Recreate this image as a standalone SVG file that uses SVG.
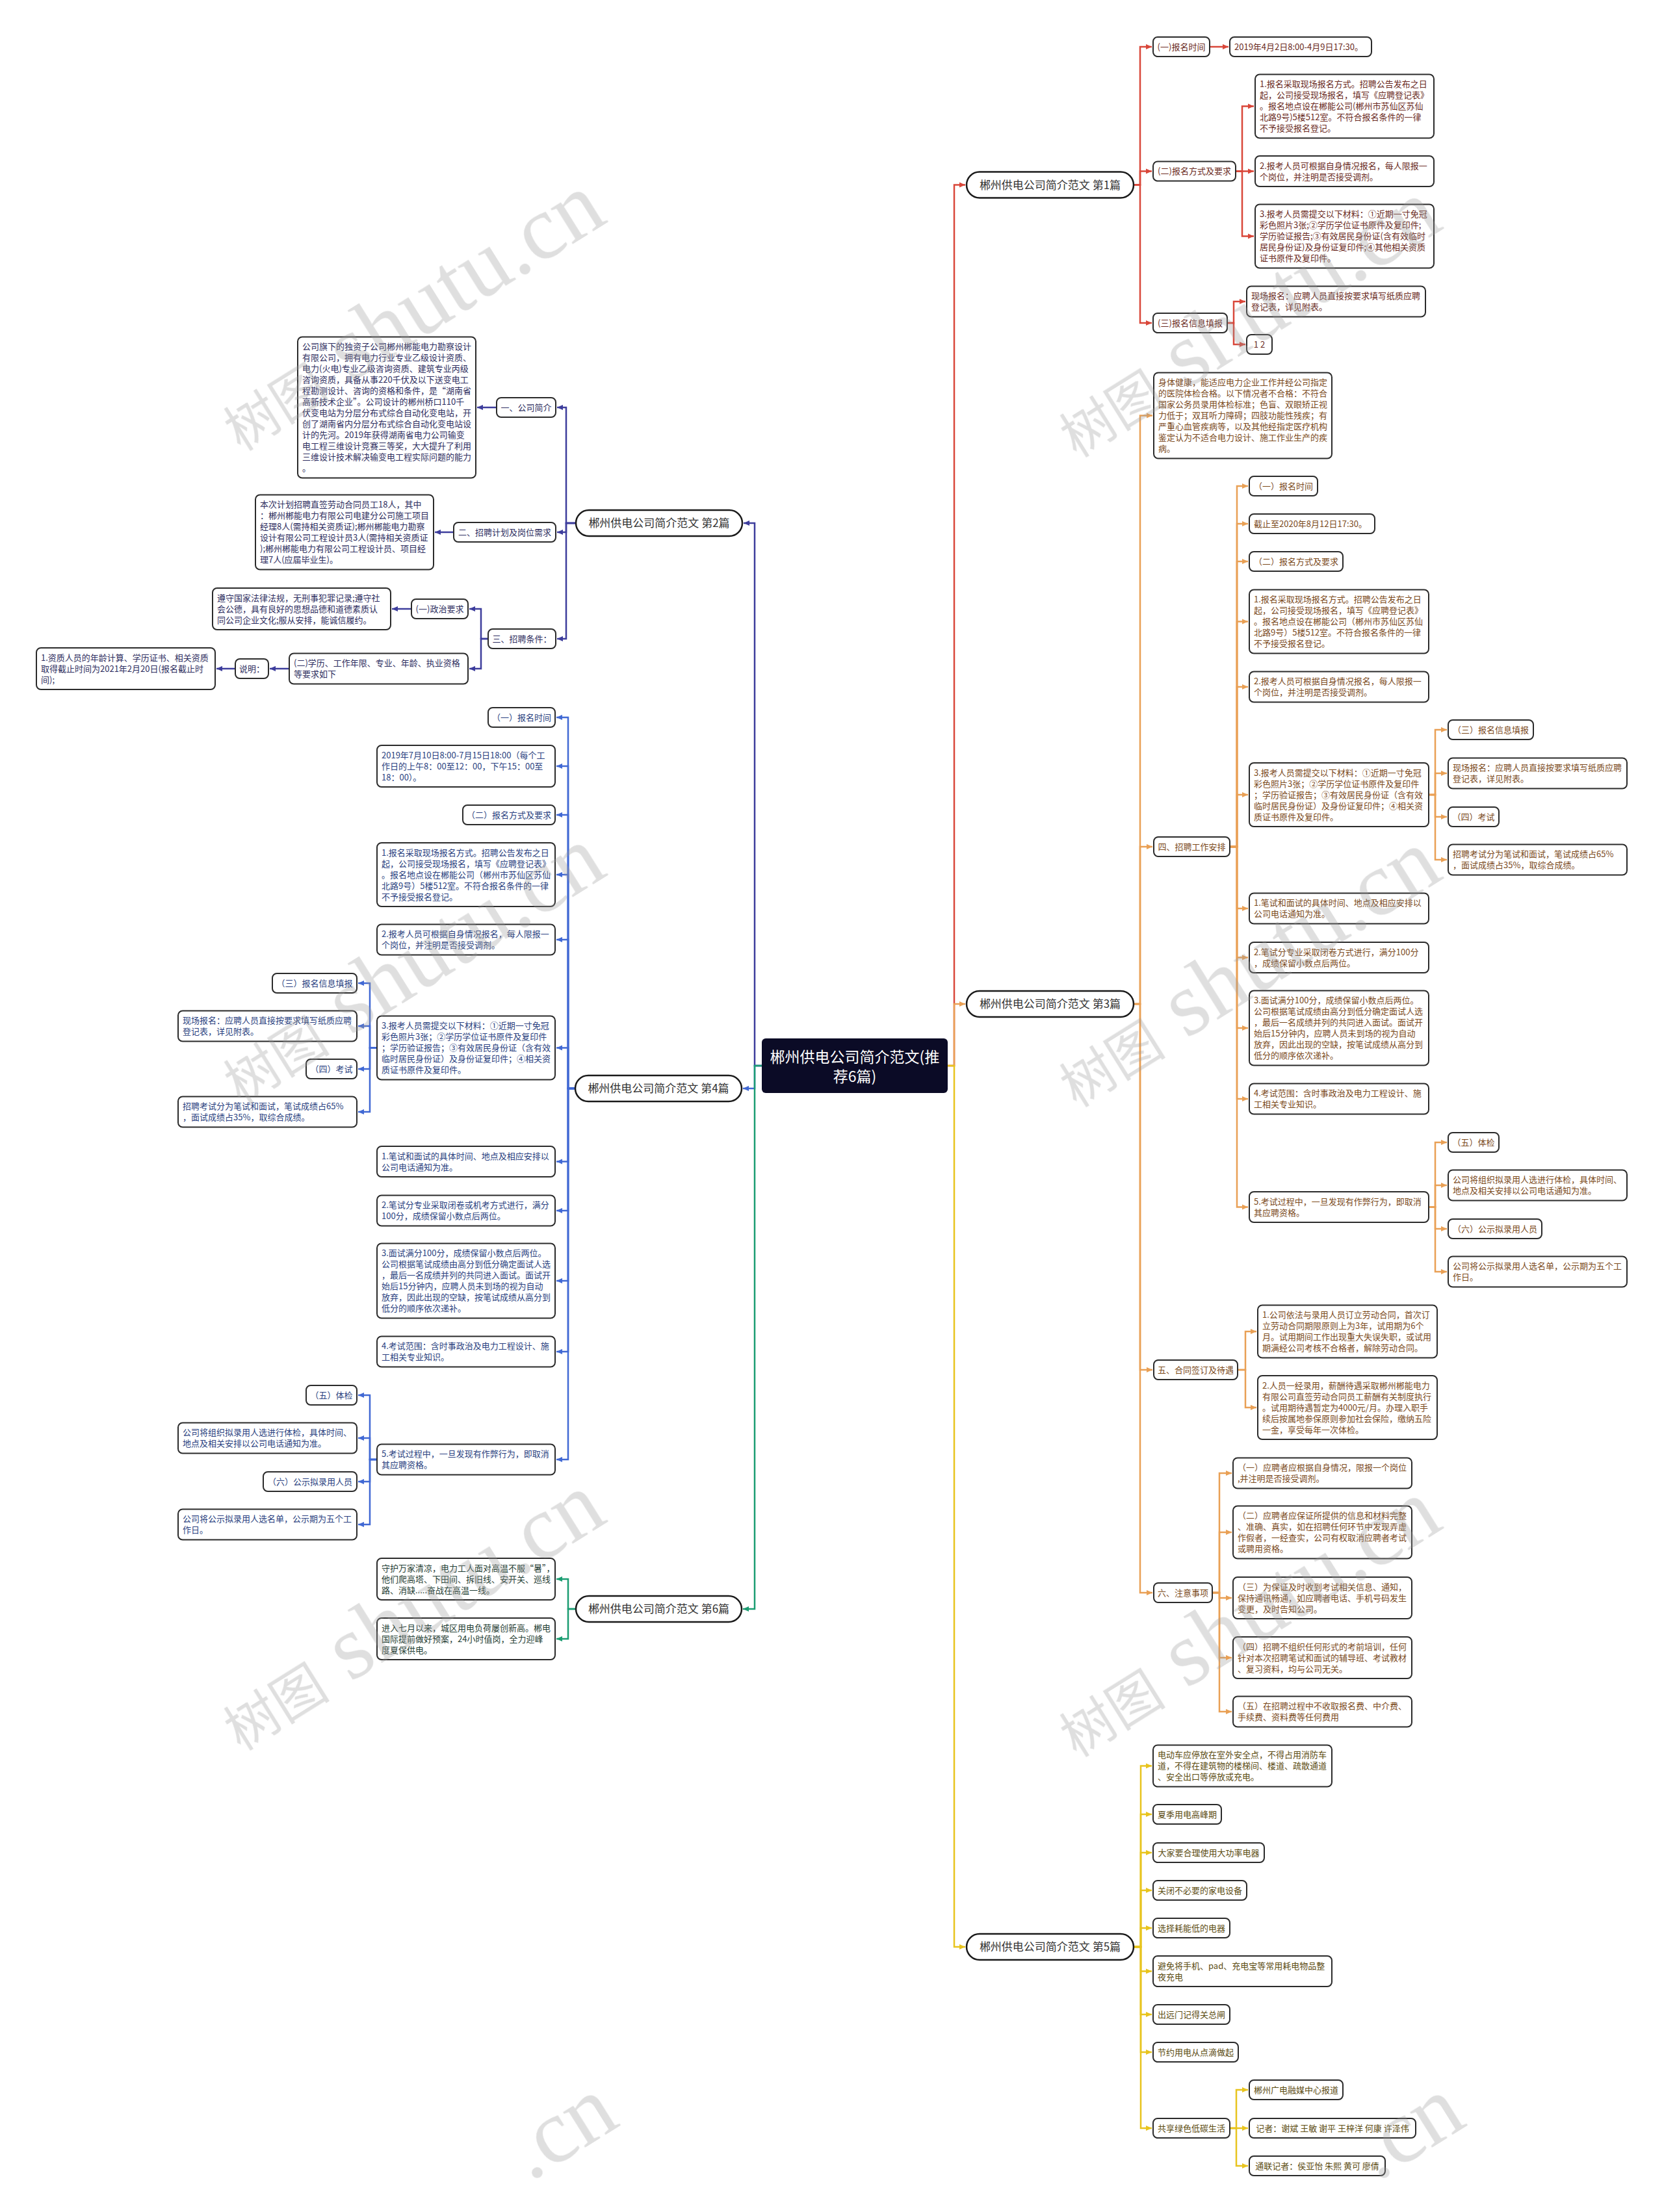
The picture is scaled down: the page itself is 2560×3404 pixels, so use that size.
<svg xmlns="http://www.w3.org/2000/svg" width="2560" height="3404" viewBox="0 0 2560 3404">
<defs>
<style>
.box{fill:#fff;stroke:#2b2b2b;stroke-width:2}
.pill{fill:#fff;stroke:#1a1a1a;stroke-width:2.5}
text{font-family:"Noto Sans CJK SC","Noto Sans",sans-serif}
.t{font-size:13px}
.l{font-size:13px;text-anchor:middle}
.ti{font-size:17px;fill:#333;text-anchor:middle}
.k1{fill:#6a2a22}.k2{fill:#2e2e60}.k3{fill:#7b4a1c}.k4{fill:#2a3f80}.k5{fill:#5c4c12}.k6{fill:#1f3d33}
.c{fill:none;stroke-width:2.5}
.cr{stroke:#d9473a}.co{stroke:#e9a055}.cy{stroke:#e8c41e}.ci{stroke:#3d3d9c}.cb{stroke:#4169d4}.cg{stroke:#1b9d72}
.wm{fill:#9a9a9a;opacity:.32}
.ws{font-family:"Liberation Serif",serif;font-size:140px}
</style>
<marker id="ar" viewBox="0 0 10 10" refX="10" refY="5" markerWidth="9" markerHeight="9" markerUnits="userSpaceOnUse" orient="auto"><path d="M0,0.5 L10,5 L0,9.5 z" fill="#d9473a"/></marker>
<marker id="ao" viewBox="0 0 10 10" refX="10" refY="5" markerWidth="9" markerHeight="9" markerUnits="userSpaceOnUse" orient="auto"><path d="M0,0.5 L10,5 L0,9.5 z" fill="#e9a055"/></marker>
<marker id="ay" viewBox="0 0 10 10" refX="10" refY="5" markerWidth="9" markerHeight="9" markerUnits="userSpaceOnUse" orient="auto"><path d="M0,0.5 L10,5 L0,9.5 z" fill="#e8c41e"/></marker>
<marker id="ai" viewBox="0 0 10 10" refX="10" refY="5" markerWidth="9" markerHeight="9" markerUnits="userSpaceOnUse" orient="auto"><path d="M0,0.5 L10,5 L0,9.5 z" fill="#3d3d9c"/></marker>
<marker id="ab" viewBox="0 0 10 10" refX="10" refY="5" markerWidth="9" markerHeight="9" markerUnits="userSpaceOnUse" orient="auto"><path d="M0,0.5 L10,5 L0,9.5 z" fill="#4169d4"/></marker>
<marker id="ag" viewBox="0 0 10 10" refX="10" refY="5" markerWidth="9" markerHeight="9" markerUnits="userSpaceOnUse" orient="auto"><path d="M0,0.5 L10,5 L0,9.5 z" fill="#1b9d72"/></marker>
</defs>
<rect width="2560" height="3404" fill="#fff"/>

<g id="connectors">
<g class="c ci" marker-end="url(#ai)">
<path d="M1172,1640 H1161 V805 H1144"/>
<path d="M886,805 H871 V627 H857"/><path d="M886,805 H871 V819 H857"/><path d="M886,805 H871 V983 H857"/>
<path d="M764,627 H734"/><path d="M698,819 H669"/>
<path d="M751,983 H740 V937 H722"/><path d="M751,983 H740 V1029 H722"/>
<path d="M633,937 H603"/><path d="M445,1029 H415"/><path d="M362,1029 H333"/>
</g>
<g class="c cb" marker-end="url(#ab)">
<path d="M1172,1640 H1161 V1675 H1143"/>
<path d="M885,1675 H874 V1104 H856"/><path d="M885,1675 H874 V1179 H856"/><path d="M885,1675 H874 V1254 H856"/><path d="M885,1675 H874 V1346 H856"/><path d="M885,1675 H874 V1446 H856"/><path d="M885,1675 H874 V1612.5 H856"/><path d="M885,1675 H874 V1787.5 H856"/><path d="M885,1675 H874 V1863 H856"/><path d="M885,1675 H874 V1971 H856"/><path d="M885,1675 H874 V2080 H856"/><path d="M885,1675 H874 V2246 H856"/>
<path d="M580,1612.5 H569 V1513 H551"/><path d="M580,1612.5 H569 V1579 H551"/><path d="M580,1612.5 H569 V1645 H551"/><path d="M580,1612.5 H569 V1711 H551"/>
<path d="M580,2246 H569 V2147 H551"/><path d="M580,2246 H569 V2213 H551"/><path d="M580,2246 H569 V2280 H551"/><path d="M580,2246 H569 V2346 H551"/>
</g>
<g class="c cg" marker-end="url(#ag)">
<path d="M1172,1640 H1161 V2476 H1143"/>
<path d="M886,2476 H874 V2430 H856"/><path d="M886,2476 H874 V2522 H856"/>
</g>
<g class="c cr" marker-end="url(#ar)">
<path d="M1458,1640 H1468 V284.5 H1485"/>
<path d="M1744,284.5 H1754 V72 H1772"/><path d="M1744,284.5 H1754 V263.5 H1772"/><path d="M1744,284.5 H1754 V497 H1772"/>
<path d="M1861,72 H1890"/>
<path d="M1901,263.5 H1911 V163.5 H1929"/><path d="M1901,263.5 H1911 V263.5 H1929"/><path d="M1901,263.5 H1911 V363.5 H1929"/>
<path d="M1888,497 H1898 V464 H1916"/><path d="M1888,497 H1898 V530 H1916"/>
</g>
<g class="c co" marker-end="url(#ao)">
<path d="M1458,1640 H1468 V1545 H1485"/>
<path d="M1744,1545 H1754 V639.5 H1773"/><path d="M1744,1545 H1754 V1303 H1773"/><path d="M1744,1545 H1754 V2108 H1773"/><path d="M1744,1545 H1754 V2451 H1773"/>
<path d="M1892,1303 H1903 V748 H1920"/><path d="M1892,1303 H1903 V806 H1920"/><path d="M1892,1303 H1903 V864 H1920"/><path d="M1892,1303 H1903 V956.5 H1920"/><path d="M1892,1303 H1903 V1057 H1920"/><path d="M1892,1303 H1903 V1223 H1920"/><path d="M1892,1303 H1903 V1398 H1920"/><path d="M1892,1303 H1903 V1473.5 H1920"/><path d="M1892,1303 H1903 V1582 H1920"/><path d="M1892,1303 H1903 V1691 H1920"/><path d="M1892,1303 H1903 V1857.5 H1920"/>
<path d="M2198,1223 H2208 V1123 H2226"/><path d="M2198,1223 H2208 V1190 H2226"/><path d="M2198,1223 H2208 V1257 H2226"/><path d="M2198,1223 H2208 V1323 H2226"/>
<path d="M2198,1857.5 H2208 V1758 H2226"/><path d="M2198,1857.5 H2208 V1824 H2226"/><path d="M2198,1857.5 H2208 V1891 H2226"/><path d="M2198,1857.5 H2208 V1957 H2226"/>
<path d="M1904,2108 H1916 V2049 H1933"/><path d="M1904,2108 H1916 V2166 H1933"/>
<path d="M1865,2451 H1876 V2267 H1895"/><path d="M1865,2451 H1876 V2358 H1895"/><path d="M1865,2451 H1876 V2459 H1895"/><path d="M1865,2451 H1876 V2551 H1895"/><path d="M1865,2451 H1876 V2634 H1895"/>
</g>
<g class="c cy" marker-end="url(#ay)">
<path d="M1458,1640 H1468 V2996 H1485"/>
<path d="M1744,2996 H1755 V2717.5 H1772"/><path d="M1744,2996 H1755 V2792 H1772"/><path d="M1744,2996 H1755 V2851 H1772"/><path d="M1744,2996 H1755 V2909 H1772"/><path d="M1744,2996 H1755 V2967 H1772"/><path d="M1744,2996 H1755 V3033.5 H1772"/><path d="M1744,2996 H1755 V3100 H1772"/><path d="M1744,2996 H1755 V3158 H1772"/><path d="M1744,2996 H1755 V3275 H1772"/>
<path d="M1892,3275 H1902 V3216 H1920"/><path d="M1892,3275 H1902 V3275 H1920"/><path d="M1892,3275 H1902 V3333 H1920"/>
</g>
</g>

<g id="root">
<rect x="1172" y="1598" width="286" height="84" rx="6" fill="#0b0b26"/>
<text x="1315" y="1635" font-size="23" fill="#fff" text-anchor="middle">郴州供电公司简介范文(推</text>
<text x="1315" y="1665" font-size="23" fill="#fff" text-anchor="middle">荐6篇)</text>
</g>

<!-- Branch 1 -->
<g id="b1">
<rect class="pill" x="1487" y="264.5" width="257" height="40" rx="20"/>
<text class="ti" x="1615.5" y="290.5">郴州供电公司简介范文 第1篇</text>
</g>
<g id="b1-1"><rect class="box" x="1774" y="57" width="87" height="30" rx="7"/><text class="l k1" x="1817.5" y="76.5">(一)报名时间</text></g>
<g id="b1-1a"><rect class="box" x="1892" y="57" width="218" height="30" rx="7"/><text class="t k1" x="1899" y="76.5">2019年4月2日8:00-4月9日17:30。</text></g>
<g id="b1-2"><rect class="box" x="1774" y="248.5" width="127" height="30" rx="7"/><text class="l k1" x="1837.5" y="268">(二)报名方式及要求</text></g>
<g id="b1-2a"><rect class="box" x="1931" y="114.5" width="275" height="98" rx="7"/><text class="t k1" x="1938" y="134"><tspan x="1938">1.报名采取现场报名方式。招聘公告发布之日</tspan><tspan x="1938" dy="17">起，公司接受现场报名，填写《应聘登记表》</tspan><tspan x="1938" dy="17">。报名地点设在郴能公司(郴州市苏仙区苏仙</tspan><tspan x="1938" dy="17">北路9号)5楼512室。不符合报名条件的一律</tspan><tspan x="1938" dy="17">不予接受报名登记。</tspan></text></g>
<g id="b1-2b"><rect class="box" x="1931" y="240" width="275" height="47" rx="7"/><text class="t k1" x="1938" y="259.5"><tspan x="1938">2.报考人员可根据自身情况报名，每人限报一</tspan><tspan x="1938" dy="17">个岗位，并注明是否接受调剂。</tspan></text></g>
<g id="b1-2c"><rect class="box" x="1931" y="314.5" width="275" height="98" rx="7"/><text class="t k1" x="1938" y="334"><tspan x="1938">3.报考人员需提交以下材料：①近期一寸免冠</tspan><tspan x="1938" dy="17">彩色照片3张;②学历学位证书原件及复印件;</tspan><tspan x="1938" dy="17">学历验证报告;③有效居民身份证(含有效临时</tspan><tspan x="1938" dy="17">居民身份证)及身份证复印件;④其他相关资质</tspan><tspan x="1938" dy="17">证书原件及复印件。</tspan></text></g>
<g id="b1-3"><rect class="box" x="1774" y="482" width="114" height="30" rx="7"/><text class="l k1" x="1831" y="501.5">(三)报名信息填报</text></g>
<g id="b1-3a"><rect class="box" x="1918" y="440.5" width="275" height="47" rx="7"/><text class="t k1" x="1925" y="460"><tspan x="1925">现场报名：应聘人员直接按要求填写纸质应聘</tspan><tspan x="1925" dy="17">登记表，详见附表。</tspan></text></g>
<g id="b1-3b"><rect class="box" x="1918" y="515" width="39" height="30" rx="7"/><text class="l k1" x="1937.5" y="534.5">1 2</text></g>

<!-- Branch 3 -->
<g id="b3">
<rect class="pill" x="1487" y="1525" width="257" height="40" rx="20"/>
<text class="ti" x="1615.5" y="1551">郴州供电公司简介范文 第3篇</text>
</g>
<g id="b3-0"><rect class="box" x="1775" y="573.5" width="274" height="132" rx="7"/><text class="t k3" x="1782" y="593"><tspan x="1782">身体健康，能适应电力企业工作并经公司指定</tspan><tspan x="1782" dy="17">的医院体检合格。以下情况者不合格：不符合</tspan><tspan x="1782" dy="17">国家公务员录用体检标准；色盲、双眼矫正视</tspan><tspan x="1782" dy="17">力低于；双耳听力障碍；四肢功能性残疾；有</tspan><tspan x="1782" dy="17">严重心血管疾病等，以及其他经指定医疗机构</tspan><tspan x="1782" dy="17">鉴定认为不适合电力设计、施工作业生产的疾</tspan><tspan x="1782" dy="17">病。</tspan></text></g>
<g id="b3-4"><rect class="box" x="1775" y="1288" width="117" height="30" rx="7"/><text class="l k3" x="1833.5" y="1307.5">四、招聘工作安排</text></g>
<g id="b3-4-1"><rect class="box" x="1922" y="733" width="105" height="30" rx="7"/><text class="l k3" x="1974.5" y="752.5">（一）报名时间</text></g>
<g id="b3-4-2"><rect class="box" x="1922" y="791" width="193" height="30" rx="7"/><text class="t k3" x="1929" y="810.5">截止至2020年8月12日17:30。</text></g>
<g id="b3-4-3"><rect class="box" x="1922" y="849" width="144" height="30" rx="7"/><text class="l k3" x="1994" y="868.5">（二）报名方式及要求</text></g>
<g id="b3-4-4"><rect class="box" x="1922" y="907.5" width="276" height="98" rx="7"/><text class="t k3" x="1929" y="927"><tspan x="1929">1.报名采取现场报名方式。招聘公告发布之日</tspan><tspan x="1929" dy="17">起，公司接受现场报名，填写《应聘登记表》</tspan><tspan x="1929" dy="17">。报名地点设在郴能公司（郴州市苏仙区苏仙</tspan><tspan x="1929" dy="17">北路9号）5楼512室。不符合报名条件的一律</tspan><tspan x="1929" dy="17">不予接受报名登记。</tspan></text></g>
<g id="b3-4-5"><rect class="box" x="1922" y="1033.5" width="276" height="47" rx="7"/><text class="t k3" x="1929" y="1053"><tspan x="1929">2.报考人员可根据自身情况报名，每人限报一</tspan><tspan x="1929" dy="17">个岗位，并注明是否接受调剂。</tspan></text></g>
<g id="b3-4-6"><rect class="box" x="1922" y="1174" width="276" height="98" rx="7"/><text class="t k3" x="1929" y="1193.5"><tspan x="1929">3.报考人员需提交以下材料：①近期一寸免冠</tspan><tspan x="1929" dy="17">彩色照片3张；②学历学位证书原件及复印件</tspan><tspan x="1929" dy="17">；学历验证报告；③有效居民身份证（含有效</tspan><tspan x="1929" dy="17">临时居民身份证）及身份证复印件；④相关资</tspan><tspan x="1929" dy="17">质证书原件及复印件。</tspan></text></g>
<g id="b3-4-6a"><rect class="box" x="2228" y="1108" width="131" height="30" rx="7"/><text class="l k3" x="2293.5" y="1127.5">（三）报名信息填报</text></g>
<g id="b3-4-6b"><rect class="box" x="2228" y="1166.5" width="275" height="47" rx="7"/><text class="t k3" x="2235" y="1186"><tspan x="2235">现场报名：应聘人员直接按要求填写纸质应聘</tspan><tspan x="2235" dy="17">登记表，详见附表。</tspan></text></g>
<g id="b3-4-6c"><rect class="box" x="2228" y="1242" width="78" height="30" rx="7"/><text class="l k3" x="2267" y="1261.5">（四）考试</text></g>
<g id="b3-4-6d"><rect class="box" x="2228" y="1299.5" width="275" height="47" rx="7"/><text class="t k3" x="2235" y="1319"><tspan x="2235">招聘考试分为笔试和面试，笔试成绩占65%</tspan><tspan x="2235" dy="17">，面试成绩占35%，取综合成绩。</tspan></text></g>
<g id="b3-4-7"><rect class="box" x="1922" y="1374.5" width="276" height="47" rx="7"/><text class="t k3" x="1929" y="1394"><tspan x="1929">1.笔试和面试的具体时间、地点及相应安排以</tspan><tspan x="1929" dy="17">公司电话通知为准。</tspan></text></g>
<g id="b3-4-8"><rect class="box" x="1922" y="1450" width="276" height="47" rx="7"/><text class="t k3" x="1929" y="1469.5"><tspan x="1929">2.笔试分专业采取闭卷方式进行，满分100分</tspan><tspan x="1929" dy="17">，成绩保留小数点后两位。</tspan></text></g>
<g id="b3-4-9"><rect class="box" x="1922" y="1524.5" width="276" height="115" rx="7"/><text class="t k3" x="1929" y="1544"><tspan x="1929">3.面试满分100分，成绩保留小数点后两位。</tspan><tspan x="1929" dy="17">公司根据笔试成绩由高分到低分确定面试人选</tspan><tspan x="1929" dy="17">，最后一名成绩并列的共同进入面试。面试开</tspan><tspan x="1929" dy="17">始后15分钟内，应聘人员未到场的视为自动</tspan><tspan x="1929" dy="17">放弃，因此出现的空缺，按笔试成绩从高分到</tspan><tspan x="1929" dy="17">低分的顺序依次递补。</tspan></text></g>
<g id="b3-4-10"><rect class="box" x="1922" y="1667.5" width="276" height="47" rx="7"/><text class="t k3" x="1929" y="1687"><tspan x="1929">4.考试范围：含时事政治及电力工程设计、施</tspan><tspan x="1929" dy="17">工相关专业知识。</tspan></text></g>
<g id="b3-4-11"><rect class="box" x="1922" y="1834" width="276" height="47" rx="7"/><text class="t k3" x="1929" y="1853.5"><tspan x="1929">5.考试过程中，一旦发现有作弊行为，即取消</tspan><tspan x="1929" dy="17">其应聘资格。</tspan></text></g>
<g id="b3-4-11a"><rect class="box" x="2228" y="1743" width="78" height="30" rx="7"/><text class="l k3" x="2267" y="1762.5">（五）体检</text></g>
<g id="b3-4-11b"><rect class="box" x="2228" y="1800.5" width="275" height="47" rx="7"/><text class="t k3" x="2235" y="1820"><tspan x="2235">公司将组织拟录用人选进行体检，具体时间、</tspan><tspan x="2235" dy="17">地点及相关安排以公司电话通知为准。</tspan></text></g>
<g id="b3-4-11c"><rect class="box" x="2228" y="1876" width="144" height="30" rx="7"/><text class="l k3" x="2300" y="1895.5">（六）公示拟录用人员</text></g>
<g id="b3-4-11d"><rect class="box" x="2228" y="1933.5" width="275" height="47" rx="7"/><text class="t k3" x="2235" y="1953"><tspan x="2235">公司将公示拟录用人选名单，公示期为五个工</tspan><tspan x="2235" dy="17">作日。</tspan></text></g>
<g id="b3-5"><rect class="box" x="1775" y="2093" width="129" height="30" rx="7"/><text class="l k3" x="1839.5" y="2112.5">五、合同签订及待遇</text></g>
<g id="b3-5-1"><rect class="box" x="1935" y="2008.5" width="276" height="81" rx="7"/><text class="t k3" x="1942" y="2028"><tspan x="1942">1.公司依法与录用人员订立劳动合同，首次订</tspan><tspan x="1942" dy="17">立劳动合同期限原则上为3年，试用期为6个</tspan><tspan x="1942" dy="17">月。试用期间工作出现重大失误失职，或试用</tspan><tspan x="1942" dy="17">期满经公司考核不合格者，解除劳动合同。</tspan></text></g>
<g id="b3-5-2"><rect class="box" x="1935" y="2117" width="276" height="98" rx="7"/><text class="t k3" x="1942" y="2136.5"><tspan x="1942">2.人员一经录用，薪酬待遇采取郴州郴能电力</tspan><tspan x="1942" dy="17">有限公司直签劳动合同员工薪酬有关制度执行</tspan><tspan x="1942" dy="17">。试用期待遇暂定为4000元/月。办理入职手</tspan><tspan x="1942" dy="17">续后按属地参保原则参加社会保险，缴纳五险</tspan><tspan x="1942" dy="17">一金，享受每年一次体检。</tspan></text></g>
<g id="b3-6"><rect class="box" x="1775" y="2436" width="90" height="30" rx="7"/><text class="l k3" x="1820" y="2455.5">六、注意事项</text></g>
<g id="b3-6-1"><rect class="box" x="1897" y="2243.5" width="275" height="47" rx="7"/><text class="t k3" x="1904" y="2263"><tspan x="1904">（一）应聘者应根据自身情况，限报一个岗位</tspan><tspan x="1904" dy="17">,并注明是否接受调剂。</tspan></text></g>
<g id="b3-6-2"><rect class="box" x="1897" y="2317.5" width="275" height="81" rx="7"/><text class="t k3" x="1904" y="2337"><tspan x="1904">（二）应聘者应保证所提供的信息和材料完整</tspan><tspan x="1904" dy="17">、准确、真实，如在招聘任何环节中发现弄虚</tspan><tspan x="1904" dy="17">作假者，一经查实，公司有权取消应聘者考试</tspan><tspan x="1904" dy="17">或聘用资格。</tspan></text></g>
<g id="b3-6-3"><rect class="box" x="1897" y="2427" width="275" height="64" rx="7"/><text class="t k3" x="1904" y="2446.5"><tspan x="1904">（三）为保证及时收到考试相关信息、通知，</tspan><tspan x="1904" dy="17">保持通讯畅通，如应聘者电话、手机号码发生</tspan><tspan x="1904" dy="17">变更，及时告知公司。</tspan></text></g>
<g id="b3-6-4"><rect class="box" x="1897" y="2519" width="275" height="64" rx="7"/><text class="t k3" x="1904" y="2538.5"><tspan x="1904">（四）招聘不组织任何形式的考前培训，任何</tspan><tspan x="1904" dy="17">针对本次招聘笔试和面试的辅导班、考试教材</tspan><tspan x="1904" dy="17">、复习资料，均与公司无关。</tspan></text></g>
<g id="b3-6-5"><rect class="box" x="1897" y="2610.5" width="275" height="47" rx="7"/><text class="t k3" x="1904" y="2630"><tspan x="1904">（五）在招聘过程中不收取报名费、中介费、</tspan><tspan x="1904" dy="17">手续费、资料费等任何费用</tspan></text></g>

<!-- Branch 5 -->
<g id="b5">
<rect class="pill" x="1487" y="2976" width="257" height="40" rx="20"/>
<text class="ti" x="1615.5" y="3002">郴州供电公司简介范文 第5篇</text>
</g>
<g id="b5-1"><rect class="box" x="1774" y="2685.5" width="275" height="64" rx="7"/><text class="t k5" x="1781" y="2705"><tspan x="1781">电动车应停放在室外安全点，不得占用消防车</tspan><tspan x="1781" dy="17">道，不得在建筑物的楼梯间、楼道、疏散通道</tspan><tspan x="1781" dy="17">、安全出口等停放或充电。</tspan></text></g>
<g id="b5-2"><rect class="box" x="1774" y="2777" width="105" height="30" rx="7"/><text class="l k5" x="1826.5" y="2796.5">夏季用电高峰期</text></g>
<g id="b5-3"><rect class="box" x="1774" y="2836" width="171" height="30" rx="7"/><text class="l k5" x="1859.5" y="2855.5">大家要合理使用大功率电器</text></g>
<g id="b5-4"><rect class="box" x="1774" y="2894" width="144" height="30" rx="7"/><text class="l k5" x="1846" y="2913.5">关闭不必要的家电设备</text></g>
<g id="b5-5"><rect class="box" x="1774" y="2952" width="118" height="30" rx="7"/><text class="l k5" x="1833" y="2971.5">选择耗能低的电器</text></g>
<g id="b5-6"><rect class="box" x="1774" y="3010" width="275" height="47" rx="7"/><text class="t k5" x="1781" y="3029.5"><tspan x="1781">避免将手机、pad、充电宝等常用耗电物品整</tspan><tspan x="1781" dy="17">夜充电</tspan></text></g>
<g id="b5-7"><rect class="box" x="1774" y="3085" width="118" height="30" rx="7"/><text class="l k5" x="1833" y="3104.5">出远门记得关总闸</text></g>
<g id="b5-8"><rect class="box" x="1774" y="3143" width="131" height="30" rx="7"/><text class="l k5" x="1839.5" y="3162.5">节约用电从点滴做起</text></g>
<g id="b5-9"><rect class="box" x="1774" y="3260" width="118" height="30" rx="7"/><text class="l k5" x="1833" y="3279.5">共享绿色低碳生活</text></g>
<g id="b5-9a"><rect class="box" x="1922" y="3201" width="144" height="30" rx="7"/><text class="l k5" x="1994" y="3220.5">郴州广电融媒中心报道</text></g>
<g id="b5-9b"><rect class="box" x="1922" y="3260" width="256" height="30" rx="7"/><text class="l k5" x="2050" y="3279.5">记者：谢斌 王敏 谢平 王梓洋 何康 许泽伟</text></g>
<g id="b5-9c"><rect class="box" x="1922" y="3318" width="209" height="30" rx="7"/><text class="l k5" x="2026.5" y="3337.5">通联记者：侯亚怡 朱熙 黄可 廖倩</text></g>

<!-- Branch 2 -->
<g id="b2">
<rect class="pill" x="886" y="785" width="256" height="40" rx="20"/>
<text class="ti" x="1014" y="811">郴州供电公司简介范文 第2篇</text>
</g>
<g id="b2-1"><rect class="box" x="764" y="612" width="91" height="30" rx="7"/><text class="l k2" x="809.5" y="631.5">一、公司简介</text></g>
<g id="b2-1a"><rect class="box" x="458" y="518.5" width="274" height="217" rx="7"/><text class="t k2" x="465" y="538"><tspan x="465">公司旗下的独资子公司郴州郴能电力勘察设计</tspan><tspan x="465" dy="17">有限公司，拥有电力行业专业乙级设计资质、</tspan><tspan x="465" dy="17">电力(火电)专业乙级咨询资质、建筑专业丙级</tspan><tspan x="465" dy="17">咨询资质，具备从事220千伏及以下送变电工</tspan><tspan x="465" dy="17">程勘测设计、咨询的资格和条件，是“湖南省</tspan><tspan x="465" dy="17">高新技术企业”。公司设计的郴州桥口110千</tspan><tspan x="465" dy="17">伏变电站为分层分布式综合自动化变电站，开</tspan><tspan x="465" dy="17">创了湖南省内分层分布式综合自动化变电站设</tspan><tspan x="465" dy="17">计的先河。2019年获得湖南省电力公司输变</tspan><tspan x="465" dy="17">电工程三维设计竞赛三等奖，大大提升了利用</tspan><tspan x="465" dy="17">三维设计技术解决输变电工程实际问题的能力</tspan><tspan x="465" dy="17">。</tspan></text></g>
<g id="b2-2"><rect class="box" x="698" y="804" width="157" height="30" rx="7"/><text class="l k2" x="776.5" y="823.5">二、招聘计划及岗位需求</text></g>
<g id="b2-2a"><rect class="box" x="393" y="761.5" width="274" height="115" rx="7"/><text class="t k2" x="400" y="781"><tspan x="400">本次计划招聘直签劳动合同员工18人，其中</tspan><tspan x="400" dy="17">：郴州郴能电力有限公司电建分公司施工项目</tspan><tspan x="400" dy="17">经理8人(需持相关资质证);郴州郴能电力勘察</tspan><tspan x="400" dy="17">设计有限公司工程设计员3人(需持相关资质证</tspan><tspan x="400" dy="17">);郴州郴能电力有限公司工程设计员、项目经</tspan><tspan x="400" dy="17">理7人(应届毕业生)。</tspan></text></g>
<g id="b2-3"><rect class="box" x="751" y="968" width="104" height="30" rx="7"/><text class="l k2" x="803" y="987.5">三、招聘条件：</text></g>
<g id="b2-3-1"><rect class="box" x="633" y="922" width="87" height="30" rx="7"/><text class="l k2" x="676.5" y="941.5">(一)政治要求</text></g>
<g id="b2-3-1a"><rect class="box" x="327" y="905" width="274" height="64" rx="7"/><text class="t k2" x="334" y="924.5"><tspan x="334">遵守国家法律法规，无刑事犯罪记录;遵守社</tspan><tspan x="334" dy="17">会公德，具有良好的思想品德和道德素质认</tspan><tspan x="334" dy="17">同公司企业文化;服从安排，能诚信履约。</tspan></text></g>
<g id="b2-3-2"><rect class="box" x="445" y="1005.5" width="275" height="47" rx="7"/><text class="t k2" x="452" y="1025"><tspan x="452">(二)学历、工作年限、专业、年龄、执业资格</tspan><tspan x="452" dy="17">等要求如下</tspan></text></g>
<g id="b2-3-2a"><rect class="box" x="362" y="1014" width="51" height="30" rx="7"/><text class="l k2" x="387.5" y="1033.5">说明：</text></g>
<g id="b2-3-2b"><rect class="box" x="56" y="997" width="275" height="64" rx="7"/><text class="t k2" x="63" y="1016.5"><tspan x="63">1.资质人员的年龄计算、学历证书、相关资质</tspan><tspan x="63" dy="17">取得截止时间为2021年2月20日(报名截止时</tspan><tspan x="63" dy="17">间);</tspan></text></g>

<!-- Branch 4 -->
<g id="b4">
<rect class="pill" x="885" y="1655" width="256" height="40" rx="20"/>
<text class="ti" x="1013" y="1681">郴州供电公司简介范文 第4篇</text>
</g>
<g id="b4-1"><rect class="box" x="751" y="1089" width="103" height="30" rx="7"/><text class="l k4" x="802.5" y="1108.5">（一）报名时间</text></g>
<g id="b4-2"><rect class="box" x="580" y="1147" width="274" height="64" rx="7"/><text class="t k4" x="587" y="1166.5"><tspan x="587">2019年7月10日8:00-7月15日18:00（每个工</tspan><tspan x="587" dy="17">作日的上午8：00至12：00，下午15：00至</tspan><tspan x="587" dy="17">18：00）。</tspan></text></g>
<g id="b4-3"><rect class="box" x="712" y="1239" width="142" height="30" rx="7"/><text class="l k4" x="783" y="1258.5">（二）报名方式及要求</text></g>
<g id="b4-4"><rect class="box" x="580" y="1297" width="274" height="98" rx="7"/><text class="t k4" x="587" y="1316.5"><tspan x="587">1.报名采取现场报名方式。招聘公告发布之日</tspan><tspan x="587" dy="17">起，公司接受现场报名，填写《应聘登记表》</tspan><tspan x="587" dy="17">。报名地点设在郴能公司（郴州市苏仙区苏仙</tspan><tspan x="587" dy="17">北路9号）5楼512室。不符合报名条件的一律</tspan><tspan x="587" dy="17">不予接受报名登记。</tspan></text></g>
<g id="b4-5"><rect class="box" x="580" y="1422.5" width="274" height="47" rx="7"/><text class="t k4" x="587" y="1442"><tspan x="587">2.报考人员可根据自身情况报名，每人限报一</tspan><tspan x="587" dy="17">个岗位，并注明是否接受调剂。</tspan></text></g>
<g id="b4-6"><rect class="box" x="580" y="1563.5" width="274" height="98" rx="7"/><text class="t k4" x="587" y="1583"><tspan x="587">3.报考人员需提交以下材料：①近期一寸免冠</tspan><tspan x="587" dy="17">彩色照片3张；②学历学位证书原件及复印件</tspan><tspan x="587" dy="17">；学历验证报告；③有效居民身份证（含有效</tspan><tspan x="587" dy="17">临时居民身份证）及身份证复印件；④相关资</tspan><tspan x="587" dy="17">质证书原件及复印件。</tspan></text></g>
<g id="b4-6a"><rect class="box" x="419" y="1498" width="130" height="30" rx="7"/><text class="l k4" x="484" y="1517.5">（三）报名信息填报</text></g>
<g id="b4-6b"><rect class="box" x="274" y="1555.5" width="275" height="47" rx="7"/><text class="t k4" x="281" y="1575"><tspan x="281">现场报名：应聘人员直接按要求填写纸质应聘</tspan><tspan x="281" dy="17">登记表，详见附表。</tspan></text></g>
<g id="b4-6c"><rect class="box" x="471" y="1630" width="78" height="30" rx="7"/><text class="l k4" x="510" y="1649.5">（四）考试</text></g>
<g id="b4-6d"><rect class="box" x="274" y="1687.5" width="275" height="47" rx="7"/><text class="t k4" x="281" y="1707"><tspan x="281">招聘考试分为笔试和面试，笔试成绩占65%</tspan><tspan x="281" dy="17">，面试成绩占35%，取综合成绩。</tspan></text></g>
<g id="b4-7"><rect class="box" x="580" y="1764" width="274" height="47" rx="7"/><text class="t k4" x="587" y="1783.5"><tspan x="587">1.笔试和面试的具体时间、地点及相应安排以</tspan><tspan x="587" dy="17">公司电话通知为准。</tspan></text></g>
<g id="b4-8"><rect class="box" x="580" y="1839.5" width="274" height="47" rx="7"/><text class="t k4" x="587" y="1859"><tspan x="587">2.笔试分专业采取闭卷或机考方式进行，满分</tspan><tspan x="587" dy="17">100分，成绩保留小数点后两位。</tspan></text></g>
<g id="b4-9"><rect class="box" x="580" y="1913.5" width="274" height="115" rx="7"/><text class="t k4" x="587" y="1933"><tspan x="587">3.面试满分100分，成绩保留小数点后两位。</tspan><tspan x="587" dy="17">公司根据笔试成绩由高分到低分确定面试人选</tspan><tspan x="587" dy="17">，最后一名成绩并列的共同进入面试。面试开</tspan><tspan x="587" dy="17">始后15分钟内，应聘人员未到场的视为自动</tspan><tspan x="587" dy="17">放弃，因此出现的空缺，按笔试成绩从高分到</tspan><tspan x="587" dy="17">低分的顺序依次递补。</tspan></text></g>
<g id="b4-10"><rect class="box" x="580" y="2056.5" width="274" height="47" rx="7"/><text class="t k4" x="587" y="2076"><tspan x="587">4.考试范围：含时事政治及电力工程设计、施</tspan><tspan x="587" dy="17">工相关专业知识。</tspan></text></g>
<g id="b4-11"><rect class="box" x="580" y="2222.5" width="274" height="47" rx="7"/><text class="t k4" x="587" y="2242"><tspan x="587">5.考试过程中，一旦发现有作弊行为，即取消</tspan><tspan x="587" dy="17">其应聘资格。</tspan></text></g>
<g id="b4-11a"><rect class="box" x="471" y="2132" width="78" height="30" rx="7"/><text class="l k4" x="510" y="2151.5">（五）体检</text></g>
<g id="b4-11b"><rect class="box" x="274" y="2189.5" width="275" height="47" rx="7"/><text class="t k4" x="281" y="2209"><tspan x="281">公司将组织拟录用人选进行体检，具体时间、</tspan><tspan x="281" dy="17">地点及相关安排以公司电话通知为准。</tspan></text></g>
<g id="b4-11c"><rect class="box" x="405" y="2265" width="144" height="30" rx="7"/><text class="l k4" x="477" y="2284.5">（六）公示拟录用人员</text></g>
<g id="b4-11d"><rect class="box" x="274" y="2322.5" width="275" height="47" rx="7"/><text class="t k4" x="281" y="2342"><tspan x="281">公司将公示拟录用人选名单，公示期为五个工</tspan><tspan x="281" dy="17">作日。</tspan></text></g>

<!-- Branch 6 -->
<g id="b6">
<rect class="pill" x="886" y="2456" width="255" height="40" rx="20"/>
<text class="ti" x="1013.5" y="2482">郴州供电公司简介范文 第6篇</text>
</g>
<g id="b6-1"><rect class="box" x="580" y="2398" width="274" height="64" rx="7"/><text class="t k6" x="587" y="2417.5"><tspan x="587">守护万家清凉，电力工人面对高温不服“暑”，</tspan><tspan x="587" dy="17">他们爬高塔、下田间、拆旧线、安开关、巡线</tspan><tspan x="587" dy="17">路、消缺.....奋战在高温一线。</tspan></text></g>
<g id="b6-2"><rect class="box" x="580" y="2490" width="274" height="64" rx="7"/><text class="t k6" x="587" y="2509.5"><tspan x="587">进入七月以来，城区用电负荷屡创新高。郴电</tspan><tspan x="587" dy="17">国际提前做好预案，24小时值岗，全力迎峰</tspan><tspan x="587" dy="17">度夏保供电。</tspan></text></g>

<g id="watermarks" class="wm">
<text transform="translate(370,695) rotate(-32)"><tspan font-size="82">树图</tspan><tspan class="ws"> shutu.cn</tspan></text>
<text transform="translate(1656,705) rotate(-32)"><tspan font-size="82">树图</tspan><tspan class="ws"> shutu.cn</tspan></text>
<text transform="translate(370,1700) rotate(-32)"><tspan font-size="82">树图</tspan><tspan class="ws"> shutu.cn</tspan></text>
<text transform="translate(1656,1705) rotate(-32)"><tspan font-size="82">树图</tspan><tspan class="ws"> shutu.cn</tspan></text>
<text transform="translate(370,2695) rotate(-32)"><tspan font-size="82">树图</tspan><tspan class="ws"> shutu.cn</tspan></text>
<text transform="translate(1656,2705) rotate(-32)"><tspan font-size="82">树图</tspan><tspan class="ws"> shutu.cn</tspan></text>
<text class="ws" transform="translate(815,3358) rotate(-32)">.cn</text>
<text class="ws" transform="translate(2118,3358) rotate(-32)">.cn</text>
</g>
</svg>
